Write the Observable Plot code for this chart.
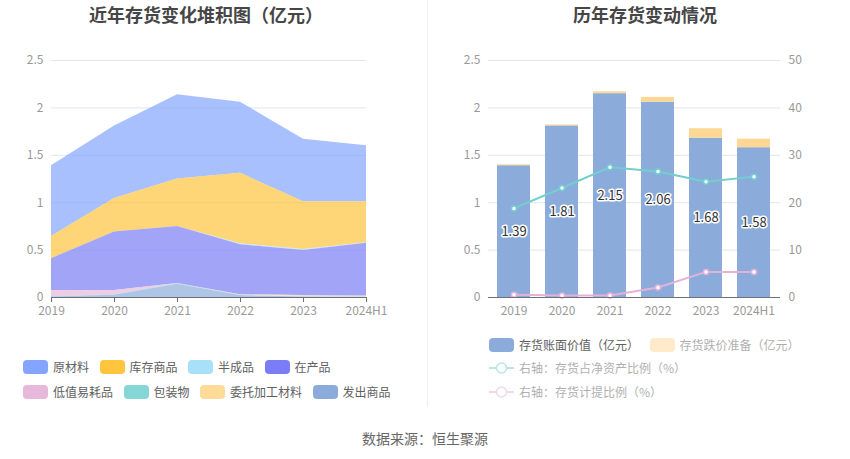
<!DOCTYPE html>
<html><head><meta charset="utf-8">
<script src="https://cdn.jsdelivr.net/npm/d3@7"></script>
<script src="https://cdn.jsdelivr.net/npm/@observablehq/plot@0.6"></script>
<style>
body{margin:0;background:#fff;font-family:"Noto Sans CJK SC","Noto Sans",sans-serif;}
#wrap{position:relative;width:850px;height:459px;overflow:hidden;background:#fff;}
.title{position:absolute;top:2px;font-size:18px;font-weight:bold;color:#464646;transform:translateX(-50%);white-space:nowrap;line-height:24px;}
.sep{position:absolute;left:427px;top:0;width:1px;height:407px;background:#eef0f3;}
#left{position:absolute;left:0;top:0;}
#right{position:absolute;left:427px;top:0;}
.legrow{position:absolute;display:flex;align-items:center;height:14px;white-space:nowrap;}
.item{display:flex;align-items:center;margin-right:10.5px;font-size:12px;line-height:14px;color:#606060;}
.sw{width:25px;height:14px;border-radius:4px;margin-right:5px;}
.ico{width:25px;height:14px;margin-right:5px;}
.caption{position:absolute;left:425px;top:428px;transform:translateX(-50%);font-size:14px;color:#666;white-space:nowrap;line-height:20px;}
</style></head>
<body>
<div id="wrap">
  <div class="title" style="left:206px">近年存货变化堆积图（亿元）</div>
  <div class="title" style="left:645px">历年存货变动情况</div>
  <div class="sep"></div>
  <div id="left"></div>
  <div id="right"></div>
  <div class="legrow" id="lr1" style="left:23px;top:360px"></div>
  <div class="legrow" id="lr2" style="left:23px;top:385px"></div>
  <div class="legrow" id="rr1" style="left:489px;top:338px"></div>
  <div class="legrow" id="rr2" style="left:489px;top:361px"></div>
  <div class="legrow" id="rr3" style="left:489px;top:385px"></div>
  <div class="caption">数据来源：恒生聚源</div>
</div>
<script>
// ---------- data ----------
const years = ["2019", "2020", "2021", "2022", "2023", "2024H1"];
const yTicks = [0, 0.5, 1, 1.5, 2, 2.5];

// left: stacked area (亿元)
const seriesNames = ["原材料", "库存商品", "半成品", "在产品", "低值易耗品", "包装物", "委托加工材料", "发出商品"];
const seriesColors = ["#84A5FF", "#FFC53D", "#A8E0FA", "#7A7DF5", "#E8B8DA", "#85D6D6", "#FFDB99", "#8BACDB"];
const rawMaterial   = [0.747, 0.766, 0.890, 0.750, 0.660, 0.590];
const finishedGoods = [0.233, 0.354, 0.500, 0.744, 0.504, 0.433];
const semiFinished  = [0.000, 0.000, 0.000, 0.010, 0.010, 0.005];
const wip           = [0.336, 0.616, 0.600, 0.526, 0.476, 0.557];
const lowValue      = [0.065, 0.045, 0.005, 0.004, 0.004, 0.003];
const packaging     = [0.004, 0.004, 0.004, 0.003, 0.003, 0.003];
const consigned     = [0.000, 0.000, 0.000, 0.003, 0.008, 0.006];
const shipped       = [0.005, 0.025, 0.140, 0.020, 0.005, 0.003];
const seriesValues = [rawMaterial, finishedGoods, semiFinished, wip, lowValue, packaging, consigned, shipped];

// right: bars (亿元) and lines (%)
const barNames = ["存货账面价值（亿元）", "存货跌价准备（亿元）"];
const barColors = ["#8BACDB", "#FFD794"];
const bookValue  = [1.39, 1.81, 2.15, 2.06, 1.68, 1.58];
const impairment = [0.01, 0.01, 0.02, 0.05, 0.10, 0.09];
const lineNames = ["右轴：存货占净资产比例（%）", "右轴：存货计提比例（%）"];
const lineColors = ["#72CFCF", "#E4B2D8"];
const ratioNetAssets = [18.8, 23.1, 27.5, 26.6, 24.4, 25.5];
const ratioProvision = [0.6, 0.4, 0.4, 2.1, 5.4, 5.4];
const rightMax = 50;

// ---------- left chart ----------
const areaData = [];
seriesNames.forEach((s, i) => years.forEach((y, j) => areaData.push({series: s, year: y, value: seriesValues[i][j]})));
const stackOrder = seriesNames.slice().reverse();
const font = {fontSize: "12px", fontFamily: '"Noto Sans CJK SC","Noto Sans",sans-serif', background: "transparent"};

const left = Plot.plot({
  width: 427, height: 320, marginTop: 60, marginBottom: 23, marginLeft: 51, marginRight: 61,
  style: font,
  x: {type: "point", domain: years, padding: 0},
  y: {domain: [0, 2.5]},
  color: {domain: seriesNames, range: seriesColors},
  marks: [
    Plot.gridY(yTicks.slice(1), {stroke: "#E0E6F1", strokeOpacity: 1}),
    Plot.areaY(areaData, {x: "year", y: "value", z: "series", fill: "series", order: stackOrder, fillOpacity: 0.7}),
    Plot.axisY(yTicks, {tickSize: 0, tickPadding: 8, label: null, fill: "#999", tickFormat: d => String(d)}),
    Plot.axisX({tickSize: 5, tickPadding: 4, label: null, stroke: "#6E7079", fill: "#999"}),
    Plot.ruleY([0], {stroke: "#6E7079"})
  ]
});
document.getElementById("left").appendChild(left);

// ---------- right chart ----------
const barData = [];
years.forEach((y, j) => {
  barData.push({series: barNames[0], year: y, value: bookValue[j]});
  barData.push({series: barNames[1], year: y, value: impairment[j]});
});
const bookData = years.map((y, j) => ({year: y, value: bookValue[j]}));
const line1 = years.map((y, j) => ({year: y, v: ratioNetAssets[j]}));
const line2 = years.map((y, j) => ({year: y, v: ratioProvision[j]}));
const toLeft = v => v / rightMax * 2.5;

const right = Plot.plot({
  width: 423, height: 320, marginTop: 60, marginBottom: 23, marginLeft: 61, marginRight: 70,
  style: font,
  x: {type: "band", domain: years, paddingInner: 0.31, paddingOuter: 0.155},
  y: {domain: [0, 2.5]},
  color: {domain: barNames, range: barColors},
  marks: [
    Plot.gridY(yTicks.slice(1), {stroke: "#E0E6F1", strokeOpacity: 1}),
    Plot.barY(barData, {x: "year", y: "value", fill: "series", order: barNames}),
    Plot.line(line1, {x: "year", y: d => toLeft(d.v), stroke: lineColors[0], strokeWidth: 2}),
    Plot.line(line2, {x: "year", y: d => toLeft(d.v), stroke: lineColors[1], strokeWidth: 2}),
    Plot.dot(line1, {x: "year", y: d => toLeft(d.v), r: 2.5, fill: "white", stroke: lineColors[0], strokeWidth: 1.5}),
    Plot.dot(line2, {x: "year", y: d => toLeft(d.v), r: 2.5, fill: "white", stroke: lineColors[1], strokeWidth: 1.5}),
    Plot.text(bookData, {x: "year", y: d => d.value / 2, text: d => d.value.toFixed(2), fill: "#333", stroke: "white", strokeWidth: 3, fontSize: 13}),
    Plot.axisY(yTicks, {tickSize: 0, tickPadding: 8, label: null, fill: "#999", tickFormat: d => String(d)}),
    Plot.axisY(yTicks, {anchor: "right", tickSize: 0, tickPadding: 8, label: null, fill: "#999", tickFormat: d => String(d / 2.5 * rightMax)}),
    Plot.axisX({tickSize: 0, tickPadding: 9, label: null, fill: "#999"}),
    Plot.ruleY([0], {stroke: "#6E7079"})
  ]
});
document.getElementById("right").appendChild(right);

// ---------- legends ----------
function swatchItem(row, color, name, faded) {
  const it = document.createElement("div");
  it.className = "item";
  if (faded) it.style.opacity = 0.5;
  const sw = document.createElement("div");
  sw.className = "sw"; sw.style.background = color;
  const t = document.createElement("span"); t.textContent = name;
  it.appendChild(sw); it.appendChild(t);
  document.getElementById(row).appendChild(it);
}
function lineItem(row, color, name) {
  const it = document.createElement("div");
  it.className = "item"; it.style.opacity = 0.5;
  it.innerHTML = `<svg class="ico" width="25" height="14"><line x1="0" x2="25" y1="7" y2="7" stroke="${color}" stroke-width="2"/><circle cx="12.5" cy="7" r="5" fill="white" stroke="${color}" stroke-width="1.5"/></svg>`;
  const t = document.createElement("span"); t.textContent = name;
  it.appendChild(t);
  document.getElementById(row).appendChild(it);
}
seriesNames.forEach((s, i) => swatchItem(i < 4 ? "lr1" : "lr2", seriesColors[i], s, false));
swatchItem("rr1", barColors[0], barNames[0], false);
swatchItem("rr1", barColors[1], barNames[1], true);
lineItem("rr2", lineColors[0], lineNames[0]);
lineItem("rr3", lineColors[1], lineNames[1]);
</script>
</body></html>
